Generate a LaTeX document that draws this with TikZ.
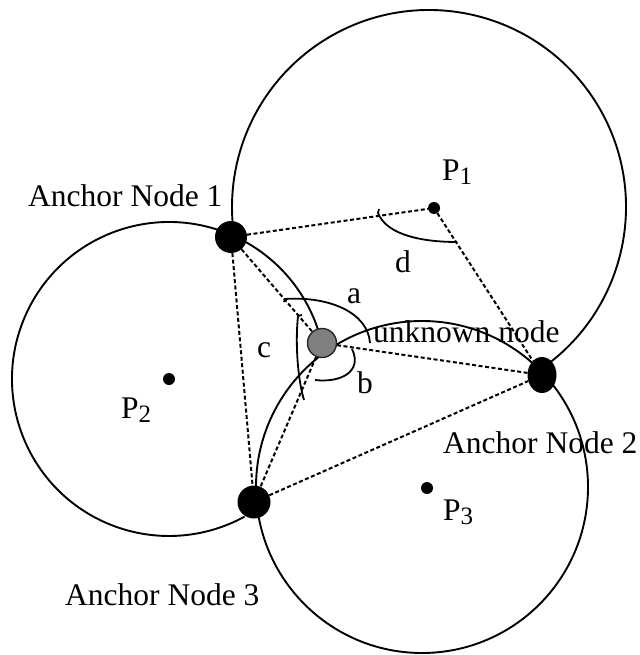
\documentclass[tikz,border=0pt]{standalone}
\usepackage{fontspec}
\setmainfont{Liberation Serif}
\usetikzlibrary{positioning,shapes.geometric}
\tikzset{
  every node/.style={font=\fontsize{31.5}{36}\selectfont},
  ring/.style={line width=1.9pt, draw=black},
  anchornode/.style={
    circle, fill=black, inner sep=0pt,
    minimum size=32pt
  },
  unknown/.style={
    circle, draw=black!85, line width=1.4pt, fill=black!50,
    inner sep=0pt, minimum size=29pt
  },
  centre/.style={circle, fill=black, inner sep=0pt, minimum size=12pt},
  link/.style={line width=2pt, dash pattern=on 4pt off 2.5pt},
  anglearc/.style={line width=1.8pt},
  lbl/.style={inner sep=0pt, anchor=base west},
}
\newcommand{\psub}[1]{P\raisebox{-4pt}{\fontsize{25}{25}\selectfont #1}}

\begin{document}
\begin{tikzpicture}[x=1pt, y=-1pt]
  \useasboundingbox (0,0) rectangle (639,655);
  % circle centres
  \coordinate (c1) at (429,207);
  \coordinate (c2) at (169,379);
  \coordinate (c3) at (422,487);
  \draw[ring] (c1) ++(-56.1:197pt) arc[start angle=-56.1, end angle=188.6, radius=197pt];
  \draw[ring] (c2) ++(66.4:157pt) arc[start angle=66.4, end angle=298.8, radius=157pt];
  \draw[ring] (c2) ++(66.4:157pt) arc[start angle=66.4, end angle=13.2, radius=157pt];
  \draw[ring] (c3) circle[radius=166pt];

  % nodes
  \node[centre] (p1) at (434,208) {};
  \node[centre] (p2) at (169,379) {};
  \node[centre] (p3) at (427,488) {};
  \node[anchornode] (a1) at (231,237) {};
  \node[anchornode, ellipse, minimum width=29pt, minimum height=36pt] (a2) at (542,375) {};
  \node[anchornode, minimum size=33pt] (a3) at (254,502) {};
  \node[unknown] (un) at (322,343) {};

  % distances
  \draw[link] (a1) -- (p1);
  \draw[link] (p1) -- (a2);
  \draw[link] (a1) -- (a3);
  \draw[link] (a1) -- (un);
  \draw[link] (un) -- (a2);
  \draw[link] (un) -- (a3);
  \draw[link] (a3) -- (a2);

  % angles
  \draw[anglearc] (379,209) -- (378,213) .. controls (387,236) and (425,242) .. (457,242);
  \draw[anglearc] (284,302) -- (285,299) .. controls (330,296) and (368,313) .. (370,343);
  \draw[anglearc] (352,349) .. controls (363,372) and (340,383) .. (315,380);
  \draw[anglearc] (302,315) -- (298,316) .. controls (295,345) and (298,380) .. (304,400);

  % labels
  \node[lbl] (l1) at (28,206) {Anchor Node 1};
  \node[lbl] (l2) at (443,453) {Anchor Node 2};
  \node[lbl] (l3) at (65,605) {Anchor Node 3};
  \node[lbl] (lp1) at (442,180) {\psub{1}};
  \node[lbl] (lp2) at (121,418) {\psub{2}};
  \node[lbl] (lp3) at (443,520) {\psub{3}};
  \node[lbl] (la) at (347,303) {a};
  \node[lbl] (lb) at (357,393) {b};
  \node[lbl] (lc) at (257,357) {c};
  \node[lbl] (ld) at (395,272) {d};
  \node[lbl] (lun) at (373,342) {unknown node};
\end{tikzpicture}
\end{document}
